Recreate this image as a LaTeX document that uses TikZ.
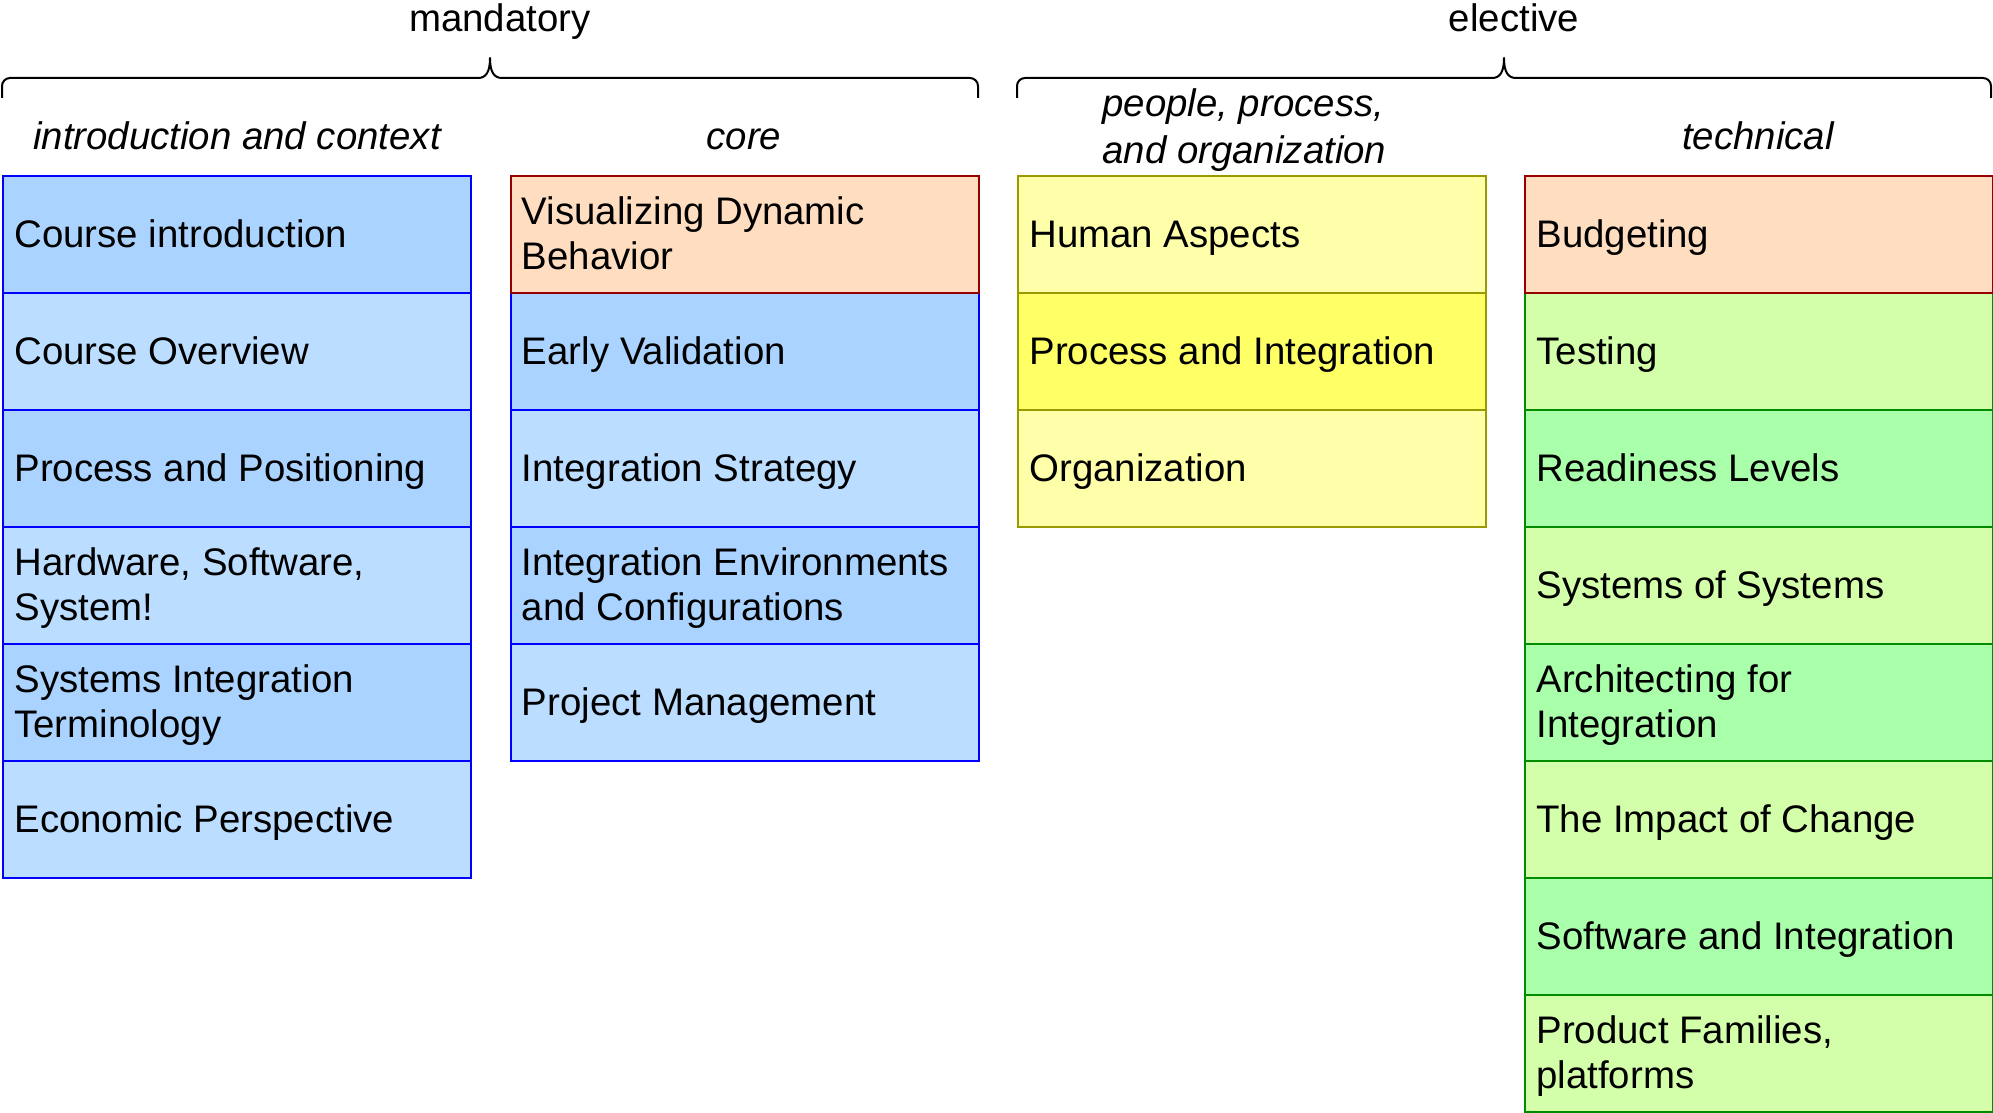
\documentclass[tikz,border=0pt]{standalone}
\usepackage{fontspec}
\setmainfont{Liberation Sans}
\newcommand{\lstrut}{\rule[-0.214em]{0pt}{1.144em}}
\definecolor{bluedk}{RGB}{170,212,255}
\definecolor{bluelt}{RGB}{187,221,255}
\definecolor{blueln}{RGB}{0,0,255}
\definecolor{orfill}{RGB}{255,221,192}
\definecolor{orline}{RGB}{150,0,0}
\definecolor{ylt}{RGB}{255,255,170}
\definecolor{ybr}{RGB}{255,255,102}
\definecolor{yln}{RGB}{153,153,0}
\definecolor{glt}{RGB}{212,255,170}
\definecolor{gdk}{RGB}{170,255,170}
\definecolor{gln}{RGB}{0,140,0}
\tikzset{
  cell/.style={draw, line width=1.1pt, minimum width=234pt, minimum height=58.5pt, inner sep=0pt, anchor=north west},
  bd/.style={cell, draw=blueln, fill=bluedk},
  bl/.style={cell, draw=blueln, fill=bluelt},
  orb/.style={cell, draw=orline, fill=orfill},
  yl/.style={cell, draw=yln, fill=ylt},
  yb/.style={cell, draw=yln, fill=ybr},
  gl/.style={cell, draw=gln, fill=glt},
  gd/.style={cell, draw=gln, fill=gdk},
  txt/.style={anchor=west, align=left, inner sep=0pt, font=\fontsize{19.2}{22.75}\selectfont,
    execute at begin node=\lstrut, execute at end node=\lstrut},
  head/.style={anchor=base, inner sep=0pt, font=\fontsize{19.2}{23.5}\selectfont},
  subhead/.style={head, font=\fontsize{19.2}{23.5}\selectfont\itshape},
  brace/.style={line width=1pt, line join=round},
  tpos/.style={xshift=6pt, yshift=0.6pt},
  tposb/.style={xshift=6pt, yshift=-1.4pt}
}
\begin{document}
\begin{tikzpicture}[x=0.5pt, y=-0.5pt]
\useasboundingbox (0,0) rectangle (1993,1113);
% column 1
\node[bd] (a1) at (2,175) {};
\node[bl] (a2) at (2,292) {};
\node[bd] (a3) at (2,409) {};
\node[bl] (a4) at (2,526) {};
\node[bd] (a5) at (2,643) {};
\node[bl] (a6) at (2,760) {};
% column 2
\node[bd] (b2) at (509.5,292) {};
\node[bl] (b3) at (509.5,409) {};
\node[bd] (b4) at (509.5,526) {};
\node[bl] (b5) at (509.5,643) {};
\node[orb] (b1) at (509.5,175) {};
% column 3
\node[yl] (c1) at (1017,175) {};
\node[yb] (c2) at (1017,292) {};
\node[yl] (c3) at (1017,409) {};
% column 4
\node[gl] (d2) at (1524,292) {};
\node[gd] (d3) at (1524,409) {};
\node[gl] (d4) at (1524,526) {};
\node[gd] (d5) at (1524,643) {};
\node[gl] (d6) at (1524,760) {};
\node[gd] (d7) at (1524,877) {};
\node[gl] (d8) at (1524,994) {};
\node[orb] (d1) at (1524,175) {};
% texts
\node[txt] (ta1) at ([tpos]a1.west) {Course introduction};
\node[txt] (ta2) at ([tpos]a2.west) {Course Overview};
\node[txt] (ta3) at ([tpos]a3.west) {Process and Positioning};
\node[txt] (ta4) at ([tposb]a4.west) {Hardware, Software,\\System!};
\node[txt] (ta5) at ([tposb]a5.west) {Systems Integration\\Terminology};
\node[txt] (ta6) at ([tpos]a6.west) {Economic Perspective};
\node[txt] (tb1) at ([tposb]b1.west) {Visualizing Dynamic\\Behavior};
\node[txt] (tb2) at ([tpos]b2.west) {Early Validation};
\node[txt] (tb3) at ([tpos]b3.west) {Integration Strategy};
\node[txt] (tb4) at ([tposb]b4.west) {Integration Environments\\and Configurations};
\node[txt] (tb5) at ([tpos]b5.west) {Project Management};
\node[txt] (tc1) at ([tpos]c1.west) {Human Aspects};
\node[txt] (tc2) at ([tpos]c2.west) {Process and Integration};
\node[txt] (tc3) at ([tpos]c3.west) {Organization};
\node[txt] (td1) at ([tpos]d1.west) {Budgeting};
\node[txt] (td2) at ([tpos]d2.west) {Testing};
\node[txt] (td3) at ([tpos]d3.west) {Readiness Levels};
\node[txt] (td4) at ([tpos]d4.west) {Systems of Systems};
\node[txt] (td5) at ([tposb]d5.west) {Architecting for\\Integration};
\node[txt] (td6) at ([tpos]d6.west) {The Impact of Change};
\node[txt] (td7) at ([tpos]d7.west) {Software and Integration};
\node[txt] (td8) at ([tposb]d8.west) {Product Families,\\platforms};
% headers
\node[head] (hm) at (500,32) {mandatory};
\node[head] (he) at (1514,32) {elective};
\node[subhead] (s1) at (237,149) {introduction and context};
\node[subhead] (s2) at (744,149) {core};
\node[txt, font=\fontsize{19.2}{23.5}\selectfont\itshape] (s3) at (1102,130) {people, process,\\and organization};
\node[subhead] (s4) at (1758,149) {technical};
% braces
\draw[brace] (2,98) [rounded corners=4pt] -- (2,78) -- (200,78) [sharp corners] -- (478,78)
  .. controls (486,78) and (490,72) .. (490,58)
  .. controls (490,72) and (494,78) .. (502,78) -- (800,78) [rounded corners=4pt] -- (978,78) -- (978,98);
\draw[brace] (1017,98) [rounded corners=4pt] -- (1017,78) -- (1200,78) [sharp corners] -- (1492,78)
  .. controls (1500,78) and (1504,72) .. (1504,58)
  .. controls (1504,72) and (1508,78) .. (1516,78) -- (1800,78) [rounded corners=4pt] -- (1991,78) -- (1991,98);
\end{tikzpicture}
\end{document}
